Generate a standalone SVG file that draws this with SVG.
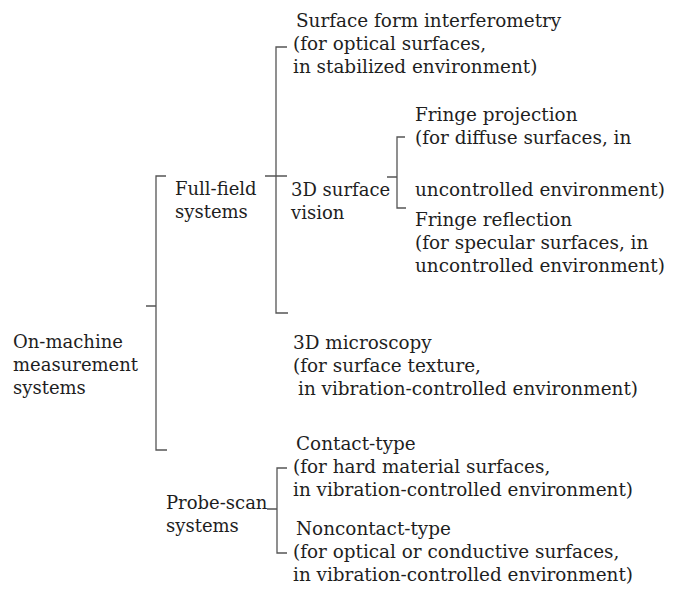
<svg xmlns="http://www.w3.org/2000/svg" width="684" height="590" viewBox="0 0 684 590">
<style>
text{font-family:"DejaVu Serif","Liberation Serif",serif;font-size:18px;fill:#1e1e1e}
.d text{font-size:18.4px}
.c path{fill:none;stroke:#555;stroke-width:1.3}
</style>
<rect width="684" height="590" fill="#fff"/>
<g class="c" id="connectors">
<path d="M146,306H156M166,176H156V450H167"/>
<path d="M265,176H287M287,47H276V313H288"/>
<path d="M387,177H397M405,137H397V208H406"/>
<path d="M267,509H277M287,468H277V553H287"/>
</g>
<g id="root"><text x="13" y="348">On-machine</text><text x="13" y="371">measurement</text><text x="13" y="394">systems</text></g>
<g id="fullfield"><text x="175" y="195">Full-field</text><text x="175" y="218">systems</text></g>
<g id="probescan"><text x="166" y="509">Probe-scan</text><text x="166" y="532">systems</text></g>
<g id="interferometry" class="d"><text x="296" y="27">Surface form interferometry</text><text x="293" y="50">(for optical surfaces,</text><text x="293" y="73">in stabilized environment)</text></g>
<g id="vision"><text x="291" y="196">3D surface</text><text x="291" y="219">vision</text></g>
<g id="microscopy" class="d"><text x="293" y="349">3D microscopy</text><text x="293" y="372">(for surface texture,</text><text x="298" y="395">in vibration-controlled environment)</text></g>
<g id="projection" class="d"><text x="415" y="121">Fringe projection</text><text x="415" y="144">(for diffuse surfaces, in</text><text x="415" y="196">uncontrolled environment)</text></g>
<g id="reflection" class="d"><text x="415" y="226">Fringe reflection</text><text x="415" y="249">(for specular surfaces, in</text><text x="415" y="272">uncontrolled environment)</text></g>
<g id="contact" class="d"><text x="296" y="450">Contact-type</text><text x="293" y="473">(for hard material surfaces,</text><text x="293" y="496">in vibration-controlled environment)</text></g>
<g id="noncontact" class="d"><text x="296" y="535">Noncontact-type</text><text x="293" y="558">(for optical or conductive surfaces,</text><text x="293" y="581">in vibration-controlled environment)</text></g>
</svg>
